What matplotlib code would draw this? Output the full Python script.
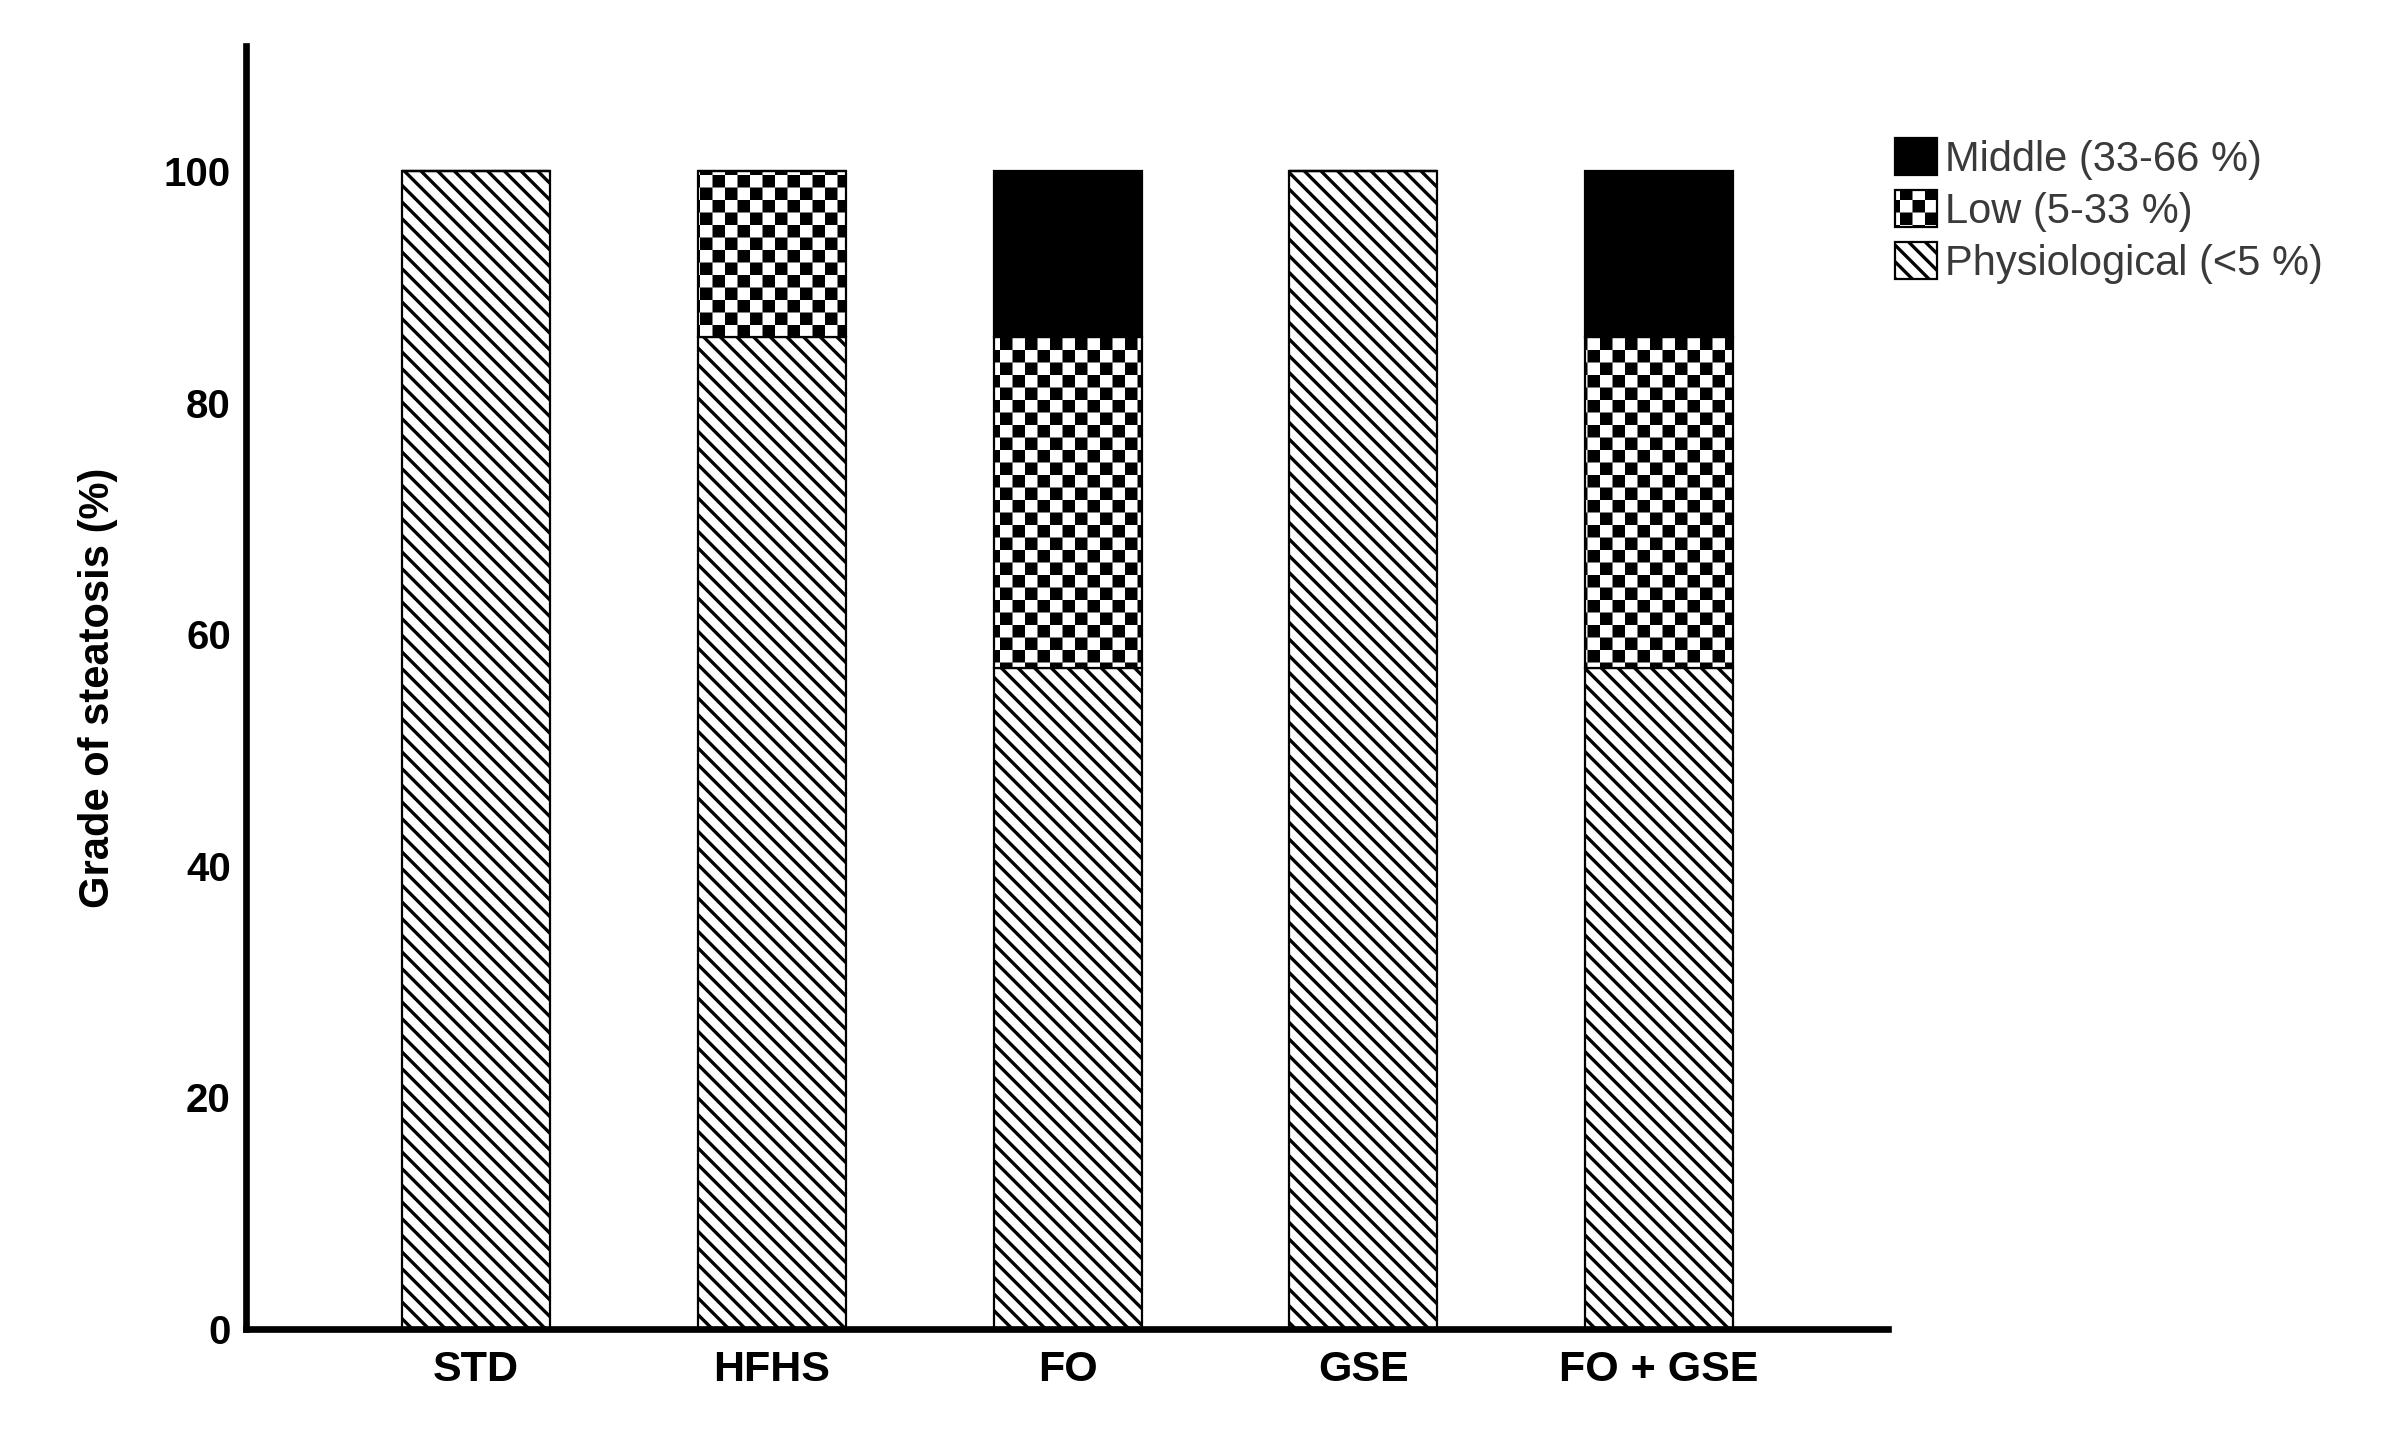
import numpy as np
import matplotlib
matplotlib.use("Agg")
import matplotlib.pyplot as plt
import matplotlib.hatch as mhatch
from matplotlib.path import Path

# ---------------- data ----------------
categories = ["STD", "HFHS", "FO", "GSE", "FO + GSE"]
physiological = [100.0, 85.7, 57.1, 100.0, 57.1]
low = [0.0, 14.3, 28.6, 0.0, 28.6]
middle = [0.0, 0.0, 14.3, 0.0, 14.3]
series_labels = ["Physiological (<5 %)", "Low (5-33 %)", "Middle (33-66 %)"]
yticks = [0, 20, 40, 60, 80, 100]

HATCH_LW = 2.4  # points
DPI = 100
plt.rcParams["hatch.linewidth"] = HATCH_LW
plt.rcParams["font.family"] = ["Liberation Sans", "DejaVu Sans"]


class CheckerHatch(mhatch.HatchPatternBase):
    """Checkerboard hatch, triggered by the character 'c'."""
    cells = 8

    def __init__(self, hatch, density):
        k = hatch.count("c")
        self.n = self.cells * k if k else 0
        self.num_vertices = (self.n * self.n // 2) * 5 if self.n else 0

    def set_vertices_and_codes(self, vertices, codes):
        n = self.n
        s = 1.0 / n
        inset = (HATCH_LW * DPI / 72.0 / 2.0) / DPI
        verts = []
        for i in range(n):
            for j in range(n):
                if (i + j) % 2 == 0:
                    x0, y0 = j * s + inset, i * s + inset
                    x1, y1 = (j + 1) * s - inset, (i + 1) * s - inset
                    verts += [(x0, y0), (x1, y0), (x1, y1), (x0, y1), (x0, y0)]
        vertices[:] = np.array(verts)
        codes[:] = np.tile([Path.MOVETO, Path.LINETO, Path.LINETO,
                            Path.LINETO, Path.CLOSEPOLY], n * n // 2)


mhatch._hatch_types.append(CheckerHatch)

import warnings
warnings.filterwarnings("ignore")

fig = plt.figure(figsize=(23.82, 14.52), dpi=DPI)
ax = fig.add_axes([0.1033, 0.0847, 0.6893, 0.8836])

x = np.arange(len(categories))
width = 0.5
phys_arr = np.array(physiological)
low_arr = np.array(low)
mid_arr = np.array(middle)

b1 = ax.bar(x, phys_arr, width, color="white", edgecolor="black",
            linewidth=1.6, hatch="\\\\", label=series_labels[0])
b2 = ax.bar(x, low_arr, width, bottom=phys_arr, color="white",
            edgecolor="black", linewidth=1.6, hatch="c",
            label=series_labels[1])
b3 = ax.bar(x, mid_arr, width, bottom=phys_arr + low_arr, color="black",
            edgecolor="black", linewidth=1.6, label=series_labels[2])

ax.set_xlim(-0.778, 4.774)
ax.set_ylim(0, 110.8)
ax.set_yticks(yticks)
ax.set_xticks(x)
ax.set_xticklabels(categories, fontsize=31, fontweight="bold")
ax.set_yticklabels([str(v) for v in yticks], fontsize=29, fontweight="bold")
ax.tick_params(axis="x", length=0, pad=15)
ax.tick_params(axis="y", length=0, pad=11)

for side in ("top", "right"):
    ax.spines[side].set_visible(False)
for side in ("left", "bottom"):
    ax.spines[side].set_linewidth(4.8)

ax.set_ylabel("Grade of steatosis (%)", fontsize=30, fontweight="bold")
ax.yaxis.set_label_coords(-0.078, 0.5)

leg = fig.legend(handles=[b3, b2, b1], labels=[series_labels[2], series_labels[1], series_labels[0]],
                 loc="upper left", bbox_to_anchor=(0.7956, 0.905),
                 frameon=False, fontsize=30, handlelength=1.0,
                 handleheight=1.0, handletextpad=0.2, labelspacing=0.24,
                 borderpad=0, borderaxespad=0)
for t in leg.get_texts():
    t.set_color("#3a3a3a")

fig.savefig("out.png", dpi=DPI)
